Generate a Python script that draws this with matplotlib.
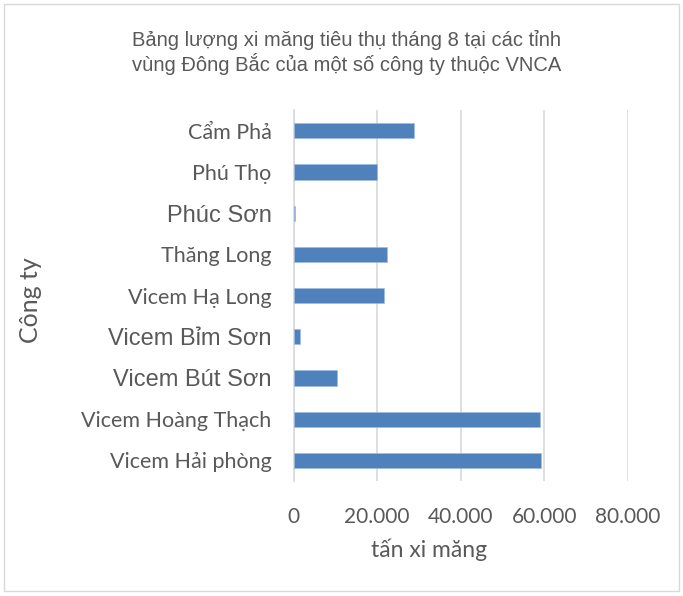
import matplotlib
matplotlib.use('Agg')
import matplotlib.pyplot as plt
from matplotlib.patches import Rectangle
from matplotlib.ticker import FuncFormatter

# data (bottom to top as drawn)
companies = ['Vicem Hải phòng', 'Vicem Hoàng Thạch', 'Vicem Bút Sơn', 'Vicem Bỉm Sơn',
             'Vicem Hạ Long', 'Thăng Long', 'Phúc Sơn', 'Phú Thọ', 'Cẩm Phả']
tons = [59200, 59000, 10400, 1500, 21700, 22300, 400, 19850, 28700]
arial_labels = ['Vicem Bút Sơn', 'Vicem Bỉm Sơn', 'Phúc Sơn']
xticks = [0, 20000, 40000, 60000, 80000]

grey = '#595959'
bar_color = '#4f81bd'

fig = plt.figure(figsize=(6.83, 5.96), dpi=100)
fig.patches.append(Rectangle((0.006, 0.008), 0.988, 0.985, transform=fig.transFigure,
                             fill=False, edgecolor='#d9d9d9', linewidth=1))

ax = fig.add_axes([0.430, 0.193, 0.489, 0.622])
ax.barh(range(len(companies)), tons, height=0.37, color=bar_color,
        edgecolor='#9dbbe0', linewidth=0.4, zorder=3)

ax.set_xlim(0, 80000)
ax.set_ylim(-0.5, len(companies) - 0.5)
ax.set_xticks(xticks)
ax.xaxis.set_major_formatter(FuncFormatter(lambda v, p: '0' if v == 0 else f'{int(v):,}'.replace(',', '.')))
ax.grid(axis='x', color='#d9d9d9', linewidth=1.2, zorder=0)
for s in ['top', 'right', 'bottom']:
    ax.spines[s].set_visible(False)
ax.spines['left'].set_color('#d9d9d9')
ax.spines['left'].set_linewidth(1.2)
ax.tick_params(length=0, colors=grey)
ax.tick_params(axis='x', pad=19)
ax.tick_params(axis='y', pad=16)

ax.set_yticks(range(len(companies)))
ax.set_yticklabels(companies)
for lbl in ax.get_yticklabels():
    if lbl.get_text() in arial_labels:
        lbl.set_fontfamily('Liberation Sans')
        lbl.set_fontsize(17)
    else:
        lbl.set_fontfamily('Lato')
        lbl.set_fontsize(15.5)
    lbl.set_color(grey)
for lbl in ax.get_xticklabels():
    lbl.set_fontfamily('Lato')
    lbl.set_fontsize(15)
    lbl.set_color(grey)

ax.set_xlabel('tấn xi măng', fontfamily='Lato', fontsize=16.5, color=grey)
ax.xaxis.set_label_coords(0.405, -0.155)
fig.text(0.045, 0.497, 'Công ty', rotation=90, ha='center', va='center',
         fontfamily='Lato', fontsize=18, color=grey)

fig.text(0.508, 0.912, 'Bảng lượng xi măng tiêu thụ tháng 8 tại các tỉnh\nvùng Đông Bắc của một số công ty thuộc VNCA',
         ha='center', va='center', fontfamily='Liberation Sans', fontsize=14.5,
         color=grey, linespacing=1.15)

fig.savefig('out.png', dpi=100)
